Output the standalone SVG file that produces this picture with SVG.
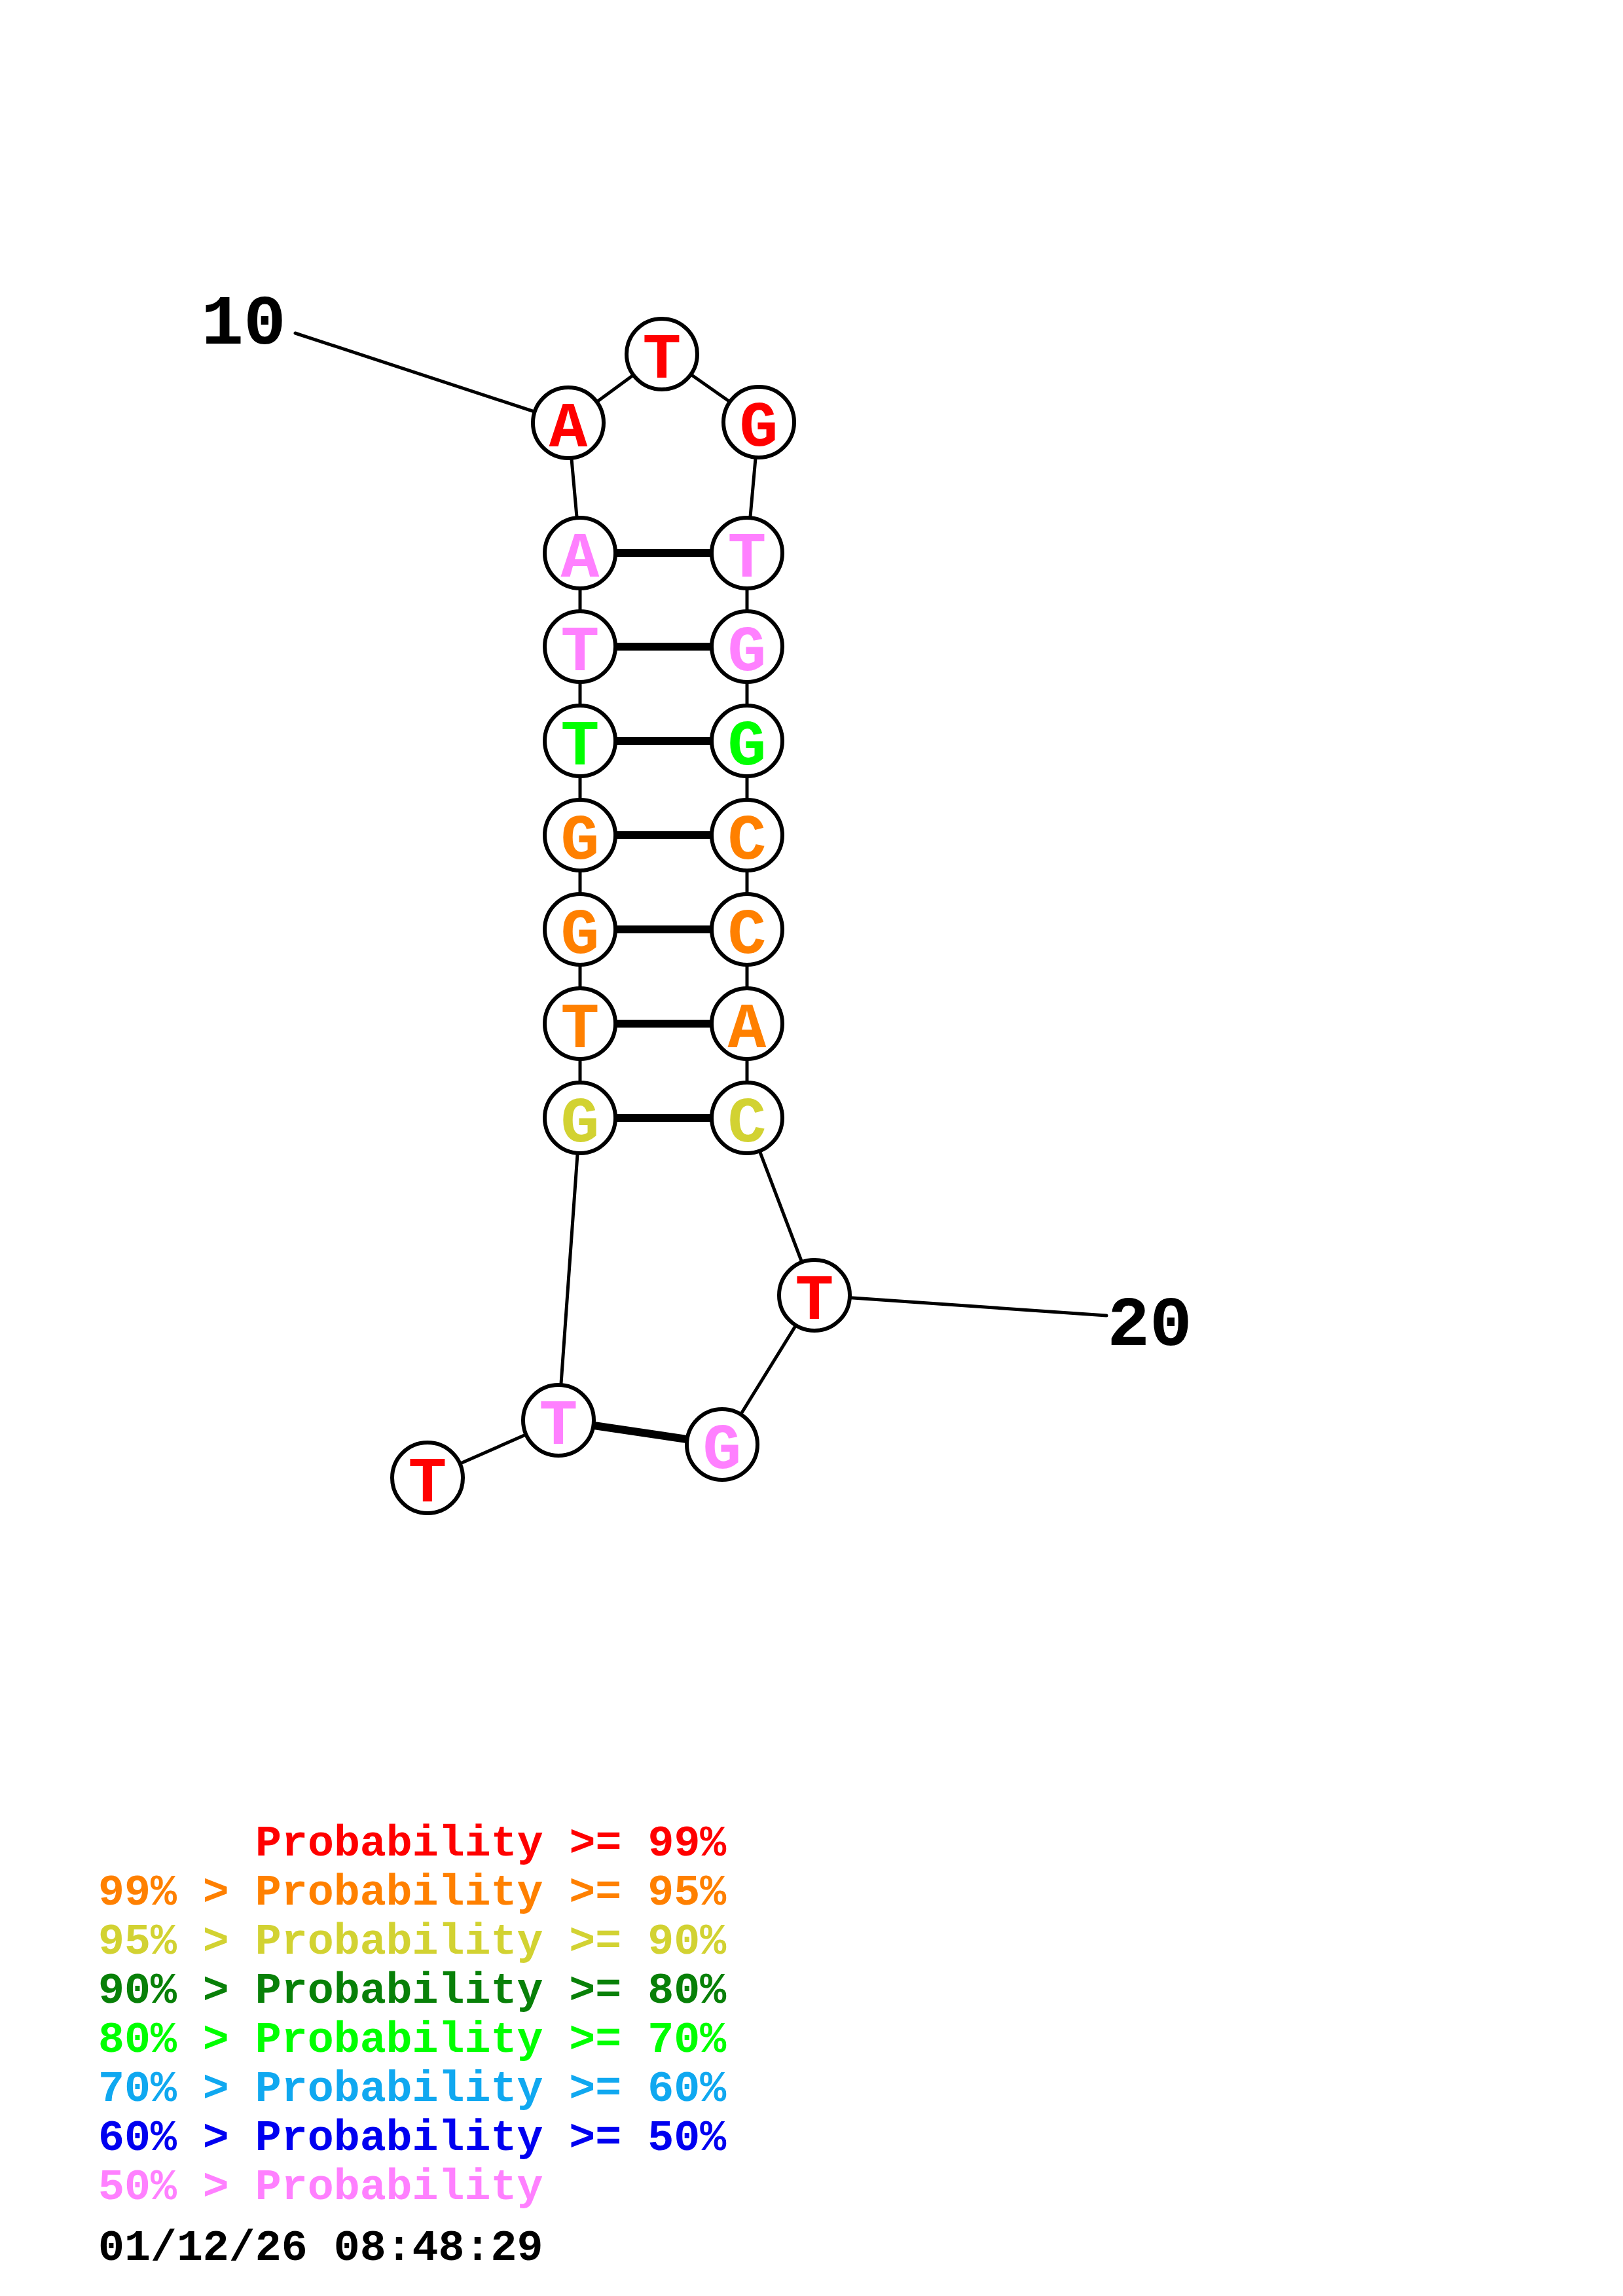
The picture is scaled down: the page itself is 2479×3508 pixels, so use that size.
<svg xmlns="http://www.w3.org/2000/svg" width="2479" height="3508" viewBox="0 0 2479 3508">
<style>
.bg{fill:#ffffff}
.bb{stroke:#000;stroke-width:5;fill:none;stroke-linecap:round}
.bp{stroke:#000;stroke-width:12;fill:none}
.nc{fill:#fff;stroke:#000;stroke-width:6}
.nt{font-family:"Liberation Mono","Courier New",monospace;font-weight:bold;font-size:98px;text-anchor:middle}
.lbl{font-family:"Liberation Mono","Courier New",monospace;font-weight:bold;font-size:108px;text-anchor:middle;fill:#000}
.lg{font-family:"Liberation Mono","Courier New",monospace;font-weight:bold;font-size:66.6px}
.r{fill:#ff0000}.o{fill:#ff8000}.y{fill:#d2d232}.dg{fill:#088008}.g{fill:#00ff00}.lb{fill:#10a8f0}.b{fill:#0000f0}.p{fill:#ff80ff}.k{fill:#000}
</style>
<rect class="bg" x="0" y="0" width="2479" height="3508"/>
<g id="connectors">
<line class="bb" x1="451" y1="509" x2="868" y2="646"/>
<line class="bb" x1="1244" y1="1979" x2="1690" y2="2010"/>
<line class="bb" x1="653" y1="2258" x2="853" y2="2170"/>
<line class="bb" x1="853" y1="2170" x2="886" y2="1708"/>
<line class="bb" x1="886" y1="1708" x2="886" y2="845"/>
<line class="bb" x1="886" y1="845" x2="868" y2="646"/>
<line class="bb" x1="868" y1="646" x2="1011" y2="541"/>
<line class="bb" x1="1011" y1="541" x2="1159" y2="645"/>
<line class="bb" x1="1159" y1="645" x2="1141" y2="845"/>
<line class="bb" x1="1141" y1="845" x2="1141" y2="1708"/>
<line class="bb" x1="1141" y1="1708" x2="1244" y2="1979"/>
<line class="bb" x1="1244" y1="1979" x2="1103" y2="2207"/>
<line class="bp" x1="886" y1="845" x2="1141" y2="845"/>
<line class="bp" x1="886" y1="988" x2="1141" y2="988"/>
<line class="bp" x1="886" y1="1132" x2="1141" y2="1132"/>
<line class="bp" x1="886" y1="1276" x2="1141" y2="1276"/>
<line class="bp" x1="886" y1="1420" x2="1141" y2="1420"/>
<line class="bp" x1="886" y1="1564" x2="1141" y2="1564"/>
<line class="bp" x1="886" y1="1708" x2="1141" y2="1708"/>
<line class="bp" x1="853" y1="2170" x2="1103" y2="2207"/>
</g>
<g id="n1"><circle class="nc" cx="653" cy="2258" r="54"/><text class="nt r" x="653" y="2294">T</text></g>
<g id="n2"><circle class="nc" cx="853" cy="2170" r="54"/><text class="nt p" x="853" y="2206">T</text></g>
<g id="n3"><circle class="nc" cx="886" cy="1708" r="54"/><text class="nt y" x="886" y="1744">G</text></g>
<g id="n4"><circle class="nc" cx="886" cy="1564" r="54"/><text class="nt o" x="886" y="1600">T</text></g>
<g id="n5"><circle class="nc" cx="886" cy="1420" r="54"/><text class="nt o" x="886" y="1456">G</text></g>
<g id="n6"><circle class="nc" cx="886" cy="1276" r="54"/><text class="nt o" x="886" y="1312">G</text></g>
<g id="n7"><circle class="nc" cx="886" cy="1132" r="54"/><text class="nt g" x="886" y="1168">T</text></g>
<g id="n8"><circle class="nc" cx="886" cy="988" r="54"/><text class="nt p" x="886" y="1024">T</text></g>
<g id="n9"><circle class="nc" cx="886" cy="845" r="54"/><text class="nt p" x="886" y="881">A</text></g>
<g id="n10"><circle class="nc" cx="868" cy="646" r="54"/><text class="nt r" x="868" y="682">A</text></g>
<g id="n11"><circle class="nc" cx="1011" cy="541" r="54"/><text class="nt r" x="1011" y="577">T</text></g>
<g id="n12"><circle class="nc" cx="1159" cy="645" r="54"/><text class="nt r" x="1159" y="681">G</text></g>
<g id="n13"><circle class="nc" cx="1141" cy="845" r="54"/><text class="nt p" x="1141" y="881">T</text></g>
<g id="n14"><circle class="nc" cx="1141" cy="988" r="54"/><text class="nt p" x="1141" y="1024">G</text></g>
<g id="n15"><circle class="nc" cx="1141" cy="1132" r="54"/><text class="nt g" x="1141" y="1168">G</text></g>
<g id="n16"><circle class="nc" cx="1141" cy="1276" r="54"/><text class="nt o" x="1141" y="1312">C</text></g>
<g id="n17"><circle class="nc" cx="1141" cy="1420" r="54"/><text class="nt o" x="1141" y="1456">C</text></g>
<g id="n18"><circle class="nc" cx="1141" cy="1564" r="54"/><text class="nt o" x="1141" y="1600">A</text></g>
<g id="n19"><circle class="nc" cx="1141" cy="1708" r="54"/><text class="nt y" x="1141" y="1744">C</text></g>
<g id="n20"><circle class="nc" cx="1244" cy="1979" r="54"/><text class="nt r" x="1244" y="2015">T</text></g>
<g id="n21"><circle class="nc" cx="1103" cy="2207" r="54"/><text class="nt p" x="1103" y="2243">G</text></g>
<g id="labels">
<text class="lbl" x="372" y="525">10</text>
<text class="lbl" x="1756" y="2055">20</text>
</g>
<g id="legend">
<text class="lg r" x="390" y="2835">Probability &gt;= 99%</text>
<text class="lg o" x="150" y="2910">99% &gt; Probability &gt;= 95%</text>
<text class="lg y" x="150" y="2985">95% &gt; Probability &gt;= 90%</text>
<text class="lg dg" x="150" y="3060">90% &gt; Probability &gt;= 80%</text>
<text class="lg g" x="150" y="3135">80% &gt; Probability &gt;= 70%</text>
<text class="lg lb" x="150" y="3210">70% &gt; Probability &gt;= 60%</text>
<text class="lg b" x="150" y="3285">60% &gt; Probability &gt;= 50%</text>
<text class="lg p" x="150" y="3360">50% &gt; Probability</text>
<text class="lg k" x="150" y="3453">01/12/26 08:48:29</text>
</g>
</svg>
